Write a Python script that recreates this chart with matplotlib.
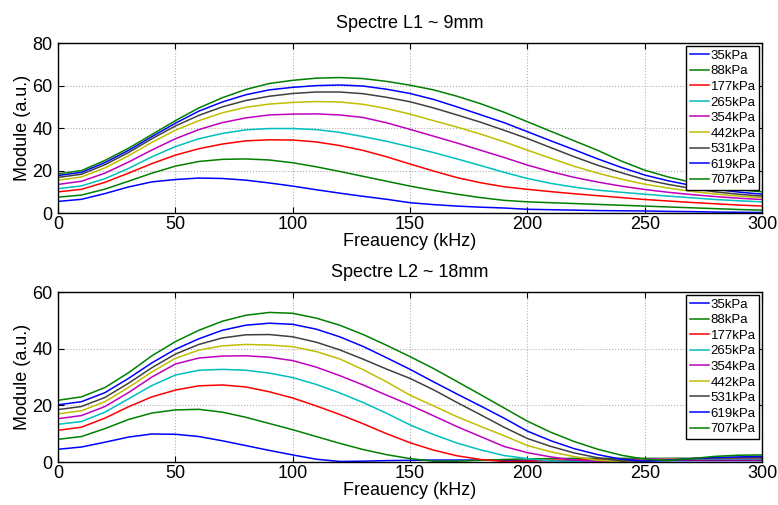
import numpy as np
import matplotlib
matplotlib.use('Agg')
import matplotlib.pyplot as plt

plt.rcParams['font.family'] = ['Liberation Sans', 'DejaVu Sans']

freq = list(range(0, 301, 10))
labels = ['35kPa', '88kPa', '177kPa', '265kPa', '354kPa', '442kPa', '531kPa', '619kPa', '707kPa']
colors = ['#0000ff', '#008000', '#ff0000', '#00bfbf', '#bf00bf', '#bfbf00', '#404040', '#0000ff', '#008000']

# Spectre L1 ~ 9mm
l1_35 = [5.5, 6.5, 9.2, 12.3, 14.7, 15.8, 16.5, 16.3, 15.5, 14.2, 12.7, 11, 9.4, 7.9, 6.5, 4.9,
         4, 3.3, 2.8, 2.4, 1.8, 1.6, 1.4, 1.2, 1.1, 1, 0.8, 0.7, 0.5, 0.4, 0.3]
l1_88 = [7.5, 8.5, 11.3, 15, 18.8, 22.1, 24.3, 25.3, 25.5, 25, 23.7, 21.8, 19.6, 17.3, 15, 12.7,
         10.7, 8.9, 7.3, 6, 5.3, 4.9, 4.5, 4.1, 3.7, 3.3, 2.9, 2.5, 2.1, 1.7, 1.4]
l1_177 = [10, 11.2, 14.5, 18.8, 23.3, 27.3, 30.3, 32.5, 34, 34.5, 34.4, 33.5, 31.8, 29.5, 26.5, 23.1,
          19.8, 16.7, 14.3, 12.4, 11.2, 10.1, 9.1, 8.2, 7.3, 6.4, 5.7, 5, 4.4, 3.8, 3.3]
l1_265 = [11.5, 12.8, 16.2, 21, 26.5, 31.3, 35, 37.5, 39.2, 39.8, 39.8, 39.3, 38, 36, 33.8, 31.2,
          28.5, 25.5, 22.4, 19.2, 16.3, 14, 12.2, 10.8, 9.8, 8.9, 8, 7.2, 6.4, 5.8, 5.3]
l1_354 = [13.5, 15, 18.8, 24, 29.7, 35, 39.3, 42.6, 44.8, 46.2, 46.6, 46.7, 46.2, 45, 42.5, 39.4,
          36.2, 33, 29.6, 26.2, 22.6, 19.5, 16.8, 14.6, 12.7, 11.1, 9.8, 8.7, 7.8, 7, 6.4]
l1_442 = [15.5, 17, 21.3, 27, 33.3, 39, 43.5, 47.2, 49.8, 51.3, 52.1, 52.5, 52.3, 51.2, 49.2, 46.6,
          43.5, 40.5, 37.2, 33.6, 29.6, 25.8, 22, 18.8, 16, 13.6, 11.8, 10.2, 9, 8, 7.3]
l1_531 = [16.8, 18.3, 22.8, 28.5, 35, 41, 46, 50, 53, 55, 56.3, 57, 57, 56.2, 54.5, 52.4,
          49.5, 46.2, 42.8, 39, 35.1, 30.8, 26.5, 22.5, 19, 15.8, 13.5, 11.6, 10, 8.9, 8]
l1_619 = [17.7, 19.2, 23.8, 29.5, 36, 42.3, 48, 52.3, 55.7, 58, 59.2, 60, 60.3, 59.8, 58.3, 56.3,
          53.5, 50, 46.3, 42.6, 38.3, 34, 29.8, 25.5, 21.5, 17.9, 15.2, 13, 11.2, 9.9, 8.9]
l1_707 = [18.5, 20, 24.8, 30.5, 37, 43.5, 49.5, 54.3, 58.2, 61, 62.5, 63.5, 63.8, 63.3, 62, 60.2,
          58, 55, 51.5, 47.5, 43, 38.5, 34, 29.5, 24.5, 20.2, 17, 14.5, 12.5, 11, 10]

# Spectre L2 ~ 18mm
l2_35 = [4.5, 5.3, 7, 8.8, 9.9, 9.8, 9, 7.5, 5.8, 4.1, 2.5, 1, 0.2, 0.3, 0.5, 0.6,
         0.7, 0.7, 0.7, 0.6, 0.5, 0.5, 0.5, 0.5, 0.5, 0.5, 0.5, 0.5, 0.5, 0.5, 0.5]
l2_88 = [8, 9, 11.8, 15, 17.3, 18.4, 18.6, 17.6, 15.8, 13.6, 11.4, 9, 6.6, 4.4, 2.6, 1.2,
         0.3, 0.3, 0.6, 0.9, 1.1, 1.2, 1.3, 1.3, 1.3, 1.3, 1.3, 1.3, 1.2, 1.2, 1.2]
l2_177 = [11.2, 12.3, 15.5, 19.5, 23, 25.4, 26.9, 27.2, 26.5, 24.8, 22.6, 19.8, 16.8, 13.5, 10, 6.8,
          4.2, 2.2, 0.9, 0.2, 0.3, 0.6, 0.8, 0.9, 0.9, 0.9, 0.9, 0.8, 0.8, 0.8, 0.8]
l2_265 = [13.3, 14.3, 17.6, 22.3, 27, 30.7, 32.4, 32.7, 32.4, 31.4, 29.8, 27.4, 24.4, 21, 17.2, 13.1,
          9.7, 6.7, 4.3, 2.3, 1.2, 0.4, 0.2, 0.5, 0.8, 1, 1, 1, 1, 1, 1]
l2_354 = [15.3, 16.4, 19.6, 24.5, 30, 34.6, 36.7, 37.4, 37.5, 37, 35.8, 33.5, 30.5, 27.2, 23.6, 20.1,
          16.3, 12.5, 9, 5.5, 3.3, 1.8, 0.7, 0.2, 0.6, 1, 1.2, 1.2, 1.2, 1.2, 1.2]
l2_442 = [17, 18.1, 21.3, 26.3, 31.8, 36.6, 39.5, 41, 41.5, 41.3, 40.7, 39, 36.4, 32.6, 28.3, 23.6,
          19.8, 16, 12.6, 9.3, 5.8, 3.6, 1.9, 0.6, 0.2, 0.7, 1, 1.2, 1.4, 1.5, 1.5]
l2_531 = [18.5, 19.6, 22.8, 27.8, 33.3, 38.1, 41.5, 43.8, 44.9, 45, 44.2, 42.3, 39.6, 36.3, 32.8, 29.5,
          25.5, 21, 16.7, 12.3, 8.3, 5.5, 3.2, 1.5, 0.4, 0.3, 0.8, 1.2, 1.4, 1.5, 1.5]
l2_619 = [20.2, 21.3, 24.5, 29.5, 35, 39.8, 43.5, 46.5, 48.3, 49, 48.6, 46.9, 44.2, 40.8, 36.8, 32.7,
          28.3, 24, 19.8, 15.5, 10.9, 7.5, 4.7, 2.6, 1, 0.3, 0.6, 1.2, 1.6, 1.8, 2]
l2_707 = [21.8, 23, 26.3, 31.5, 37.5, 42.5, 46.5, 49.7, 51.8, 52.8, 52.5, 50.8, 48.3, 45, 41.2, 37.2,
          33, 28.4, 23.8, 19.1, 14.4, 10.5, 7.2, 4.5, 2.4, 1, 0.5, 1.2, 2, 2.4, 2.5]

l1_series = [l1_35, l1_88, l1_177, l1_265, l1_354, l1_442, l1_531, l1_619, l1_707]
l2_series = [l2_35, l2_88, l2_177, l2_265, l2_354, l2_442, l2_531, l2_619, l2_707]


def draw(ax, series, title, ymax):
    for s, c, lab in zip(series, colors, labels):
        ax.plot(freq, s, color=c, lw=1.1, label=lab)
    ax.set_xlim(0, 300)
    ax.set_ylim(0, ymax)
    ax.set_xticks(range(0, 301, 50))
    ax.set_yticks(range(0, ymax + 1, 20))
    ax.grid(True, color='#b0b0b0', linestyle=':', linewidth=0.8)
    ax.tick_params(direction='in', top=True, right=True, labelsize=13, length=4, pad=2)
    ax.tick_params(axis='y', pad=4)
    for sp in ax.spines.values():
        sp.set_linewidth(1.0)
    ax.set_title(title, fontsize=13, pad=11)
    ax.set_xlabel('Freauency (kHz)', fontsize=13, labelpad=0)
    ax.set_ylabel('Module (a.u.)', fontsize=13, labelpad=1)
    leg = ax.legend(loc='upper right', fontsize=9.5, frameon=True, fancybox=False,
                    handlelength=1.45, handletextpad=0.1, labelspacing=0.25,
                    borderpad=0.3, borderaxespad=0.2)
    leg.get_frame().set_edgecolor('black')
    leg.get_frame().set_linewidth(1.0)
    leg.get_frame().set_alpha(1)


fig = plt.figure(figsize=(7.78, 5.05), dpi=100)
ax1 = fig.add_axes([0.0746, 0.578, 0.905, 0.3366])
ax2 = fig.add_axes([0.0746, 0.0851, 0.905, 0.3366])
draw(ax1, l1_series, 'Spectre L1 ~ 9mm', 80)
draw(ax2, l2_series, 'Spectre L2 ~ 18mm', 60)
fig.savefig('out.png', dpi=100)
